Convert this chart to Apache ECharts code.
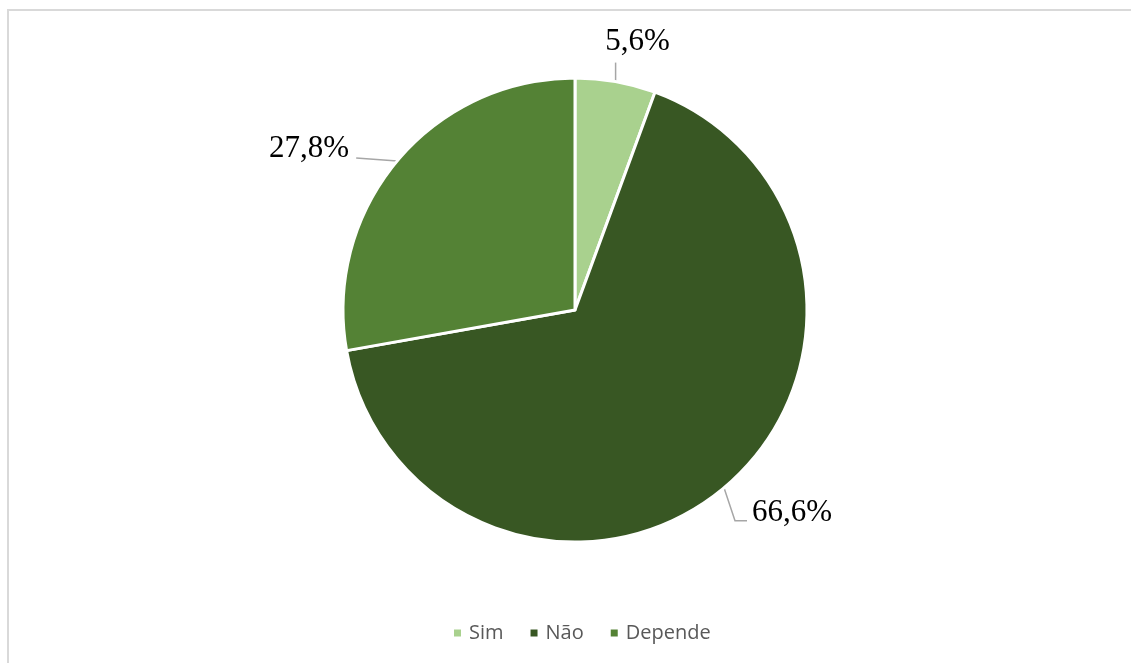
<!DOCTYPE html>
<html>
<head>
<meta charset="utf-8">
<script src="https://cdn.jsdelivr.net/npm/echarts@6/dist/echarts.min.js"></script>
<style>
  html, body { margin: 0; padding: 0; background: #ffffff; }
  #chart { width: 1131px; height: 663px; }
</style>
</head>
<body>
<div id="chart"></div>
<script>
// Answer categories and their shares (%)
const categories = ['Sim', 'Não', 'Depende'];
const values = [5.6, 66.6, 27.8];
const colors = ['#a9d18e', '#385723', '#548235'];

const CENTER = [575, 310];
const RADIUS = 232;

const chart = echarts.init(document.getElementById('chart'), null, { renderer: 'canvas' });

// mid-angle of each slice, measured clockwise from 12 o'clock
const total = values.reduce((a, b) => a + b, 0);
const midAngles = [];
let acc = 0;
values.forEach(v => {
  midAngles.push((acc + v / 2) / total * 2 * Math.PI);
  acc += v;
});

function anchorOf(i) {
  const a = midAngles[i];
  return [CENTER[0] + RADIUS * Math.sin(a), CENTER[1] - RADIUS * Math.cos(a)];
}

// leader-line routing per slice: top one goes straight up, left one horizontal, lower right bends
function layoutLabel(params) {
  const i = params.dataIndex;
  const [ax, ay] = anchorOf(i);
  if (i === 0) {
    return {
      x: ax + 22, y: ay - 24, align: 'center', verticalAlign: 'bottom',
      labelLinePoints: [[ax, ay], [ax, ay - 19], [ax, ay - 19]]
    };
  } else if (i === 1) {
    return {
      x: ax + 28, y: ay + 25, align: 'left', verticalAlign: 'middle',
      labelLinePoints: [[ax, ay], [ax + 11, ay + 33], [ax + 23, ay + 33]]
    };
  } else {
    return {
      x: ax - 48, y: ay - 12, align: 'right', verticalAlign: 'middle',
      labelLinePoints: [[ax, ay], [ax - 41, ay - 3], [ax - 41, ay - 3]]
    };
  }
}

chart.setOption({
  animation: false,
  backgroundColor: '#ffffff',
  color: colors,
  graphic: [{
    type: 'rect',
    shape: { x: 8, y: 10, width: 1200, height: 700 },
    style: { fill: 'none', stroke: '#d9d9d9', lineWidth: 2 },
    silent: true,
    z: -1
  }],
  legend: {
    bottom: 15,
    left: 447,
    itemWidth: 9,
    itemHeight: 9,
    itemGap: 25,
    icon: 'rect',
    textStyle: { fontFamily: 'Open Sans', fontSize: 20, color: '#595959', padding: [0, 0, 0, 2] },
    data: categories
  },
  series: [{
    type: 'pie',
    center: CENTER,
    radius: RADIUS,
    startAngle: 90,
    clockwise: true,
    silent: true,
    itemStyle: { borderColor: '#ffffff', borderWidth: 3 },
    label: {
      show: true,
      position: 'outside',
      fontFamily: 'Liberation Serif',
      fontSize: 31,
      color: '#000000',
      formatter: p => p.value.toFixed(1).replace('.', ',') + '%'
    },
    labelLine: { show: true, lineStyle: { color: '#a6a6a6', width: 1.5 } },
    labelLayout: layoutLabel,
    data: categories.map((c, i) => ({ name: c, value: values[i] }))
  }]
});
</script>
</body>
</html>
